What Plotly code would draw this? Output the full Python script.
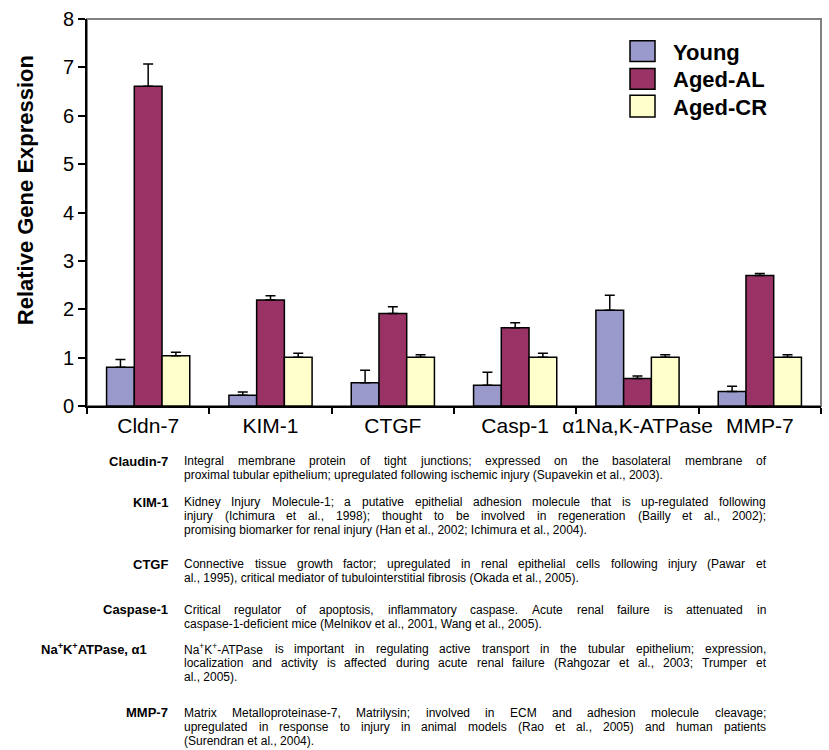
import re
import plotly.graph_objects as go

categories = ["Cldn-7", "KIM-1", "CTGF", "Casp-1", "α1Na,K-ATPase", "MMP-7"]
series_names = ["Young", "Aged-AL", "Aged-CR"]
young = [0.80, 0.22, 0.48, 0.43, 1.98, 0.30]
young_err = [0.16, 0.07, 0.26, 0.27, 0.31, 0.11]
aged_al = [6.61, 2.19, 1.91, 1.62, 0.57, 2.70]
aged_al_err = [0.46, 0.09, 0.14, 0.10, 0.05, 0.04]
aged_cr = [1.04, 1.01, 1.01, 1.01, 1.01, 1.01]
aged_cr_err = [0.07, 0.08, 0.05, 0.08, 0.05, 0.05]
colors = ["#9999CC", "#993366", "#FFFFCC"]
y_ticks = [0, 1, 2, 3, 4, 5, 6, 7, 8]

note_labels = ["Claudin-7", "KIM-1", "CTGF", "Caspase-1",
               "Na<sup>+</sup>K<sup>+</sup>ATPase, α1", "MMP-7"]
note_lines = [
    ["Integral membrane protein of tight junctions; expressed on the basolateral membrane of",
     "proximal tubular epithelium; upregulated following ischemic injury (Supavekin et al., 2003)."],
    ["Kidney Injury Molecule-1; a putative epithelial adhesion molecule that is up-regulated following",
     "injury (Ichimura et al., 1998); thought to be involved in regeneration (Bailly et al., 2002);",
     "promising biomarker for renal injury (Han et al., 2002; Ichimura et al., 2004)."],
    ["Connective tissue growth factor; upregulated in renal epithelial cells following injury (Pawar et",
     "al., 1995), critical mediator of tubulointerstitial fibrosis (Okada et al., 2005)."],
    ["Critical regulator of apoptosis, inflammatory caspase.  Acute renal failure is attenuated in",
     "caspase-1-deficient mice (Melnikov et al., 2001, Wang et al., 2005)."],
    ["Na<sup>+</sup>K<sup>+</sup>-ATPase is important in regulating active transport in the tubular epithelium; expression,",
     "localization and activity is affected during acute renal failure (Rahgozar et al., 2003; Trumper et",
     "al., 2005)."],
    ["Matrix Metalloproteinase-7, Matrilysin; involved in ECM and adhesion molecule cleavage;",
     "upregulated in response to injury in animal models (Rao et al., 2005) and human patients",
     "(Surendran et al., 2004)."],
]
note_first_y = [462, 503, 566, 612, 652, 716]
note_label_right = [170, 170, 170, 170, 149, 170]

W, H = 829, 750
L, R, T, B = 87, 821, 15, 406
PW, PH = R - L, B - T


def px(x):
    return (x - L) / PW


def py(y):
    return (B - y) / PH


FONT = "Arial, Liberation Sans, sans-serif"
NOTE_SIZE = 12
LINE_H = 14
TEXT_LEFT, TEXT_RIGHT = 182, 764

# Arial advance widths (1/1000 em) for text layout of the justified notes
_AW = {' ': 278, ',': 278, '-': 333, '.': 278, ';': 278, ':': 278, '(': 333, ')': 333,
       '+': 584, "'": 191}
for ch in "0123456789":
    _AW[ch] = 556
_AW.update(dict(zip("ABCDEFGHIJKLMNOPQRSTUVWXYZ",
                    [667, 667, 722, 722, 667, 611, 778, 722, 278, 500, 667, 556, 833,
                     722, 778, 667, 778, 722, 667, 611, 722, 667, 944, 667, 667, 611])))
_AW.update(dict(zip("abcdefghijklmnopqrstuvwxyz",
                    [556, 556, 500, 556, 556, 278, 556, 556, 222, 222, 500, 222, 833,
                     556, 556, 556, 556, 333, 500, 278, 556, 500, 722, 500, 500, 500])))


def text_width(s, size):
    w = 0.0
    parts = re.split(r"(<sup>.*?</sup>)", s)
    for p in parts:
        if p.startswith("<sup>"):
            inner = p[5:-6]
            w += sum(_AW.get(c, 556) for c in inner) * 0.7
        else:
            w += sum(_AW.get(c, 556) for c in p)
    return w * size / 1000.0


fig = go.Figure()
vals = [young, aged_al, aged_cr]
errs = [young_err, aged_al_err, aged_cr_err]
for name, v, e, c in zip(series_names, vals, errs, colors):
    fig.add_trace(go.Bar(
        x=categories, y=v, name=name,
        marker=dict(color=c, line=dict(color="black", width=1.5)),
        error_y=dict(type="data", array=e, arrayminus=[0] * len(e),
                     symmetric=False, color="black", thickness=1.5, width=5),
        hoverinfo="skip", showlegend=False,
    ))

shapes = [dict(type="rect", xref="paper", yref="paper", x0=0, x1=1, y0=0, y1=1,
               line=dict(color="#808080", width=2), layer="below")]
annotations = []

# legend
leg_box_y = [(37, 58), (65, 86), (92, 114)]
for name, c, (y0, y1) in zip(series_names, colors, leg_box_y):
    shapes.append(dict(type="rect", xref="paper", yref="paper",
                       x0=px(630), x1=px(655), y0=py(y1), y1=py(y0),
                       fillcolor=c, line=dict(color="black", width=1.5)))
    annotations.append(dict(text="<b>%s</b>" % name, xref="paper", yref="paper",
                            x=px(671), y=py((y0 + y1) / 2 + 1), xanchor="left",
                            yanchor="middle", showarrow=False,
                            font=dict(family=FONT, size=22, color="black")))

# y axis title
annotations.append(dict(text="<b>Relative Gene Expression</b>", xref="paper", yref="paper",
                        x=px(25), y=py(188), textangle=-90, showarrow=False,
                        xanchor="center", yanchor="middle",
                        font=dict(family=FONT, size=22, color="black")))

# notes below the chart (justified like the reference)
for lab, lines, y0, xr in zip(note_labels, note_lines, note_first_y, note_label_right):
    annotations.append(dict(text="<b>%s</b>" % lab, xref="paper", yref="paper",
                            x=px(xr), y=py(y0), xanchor="right", yanchor="middle",
                            showarrow=False,
                            font=dict(family=FONT, size=13, color="black")))
    for i, ln in enumerate(lines):
        yy = py(y0 + i * LINE_H)
        last = (i == len(lines) - 1)
        if last:
            annotations.append(dict(text=ln, xref="paper", yref="paper",
                                    x=px(TEXT_LEFT), y=yy, xanchor="left",
                                    yanchor="middle", showarrow=False,
                                    font=dict(family=FONT, size=NOTE_SIZE, color="black")))
            continue
        words = ln.split()
        widths = [text_width(wd, NOTE_SIZE) for wd in words]
        gap = (TEXT_RIGHT - TEXT_LEFT - sum(widths)) / max(len(words) - 1, 1)
        x = TEXT_LEFT
        for wd, wdw in zip(words, widths):
            annotations.append(dict(text=wd, xref="paper", yref="paper",
                                    x=px(x), y=yy, xanchor="left", yanchor="middle",
                                    showarrow=False,
                                    font=dict(family=FONT, size=NOTE_SIZE, color="black")))
            x += wdw + gap

fig.update_layout(
    width=W, height=H,
    margin=dict(l=L, r=W - R, t=T, b=H - B, pad=0),
    paper_bgcolor="white", plot_bgcolor="white",
    barmode="group", bargap=0.32, bargroupgap=0,
    font=dict(family=FONT, color="black"),
    xaxis=dict(type="category", tickson="boundaries", ticks="outside", ticklen=6,
               tickwidth=1.5, tickcolor="black", showline=True, linecolor="black",
               linewidth=2, showgrid=False, tickangle=0,
               tickfont=dict(size=21, color="black"), fixedrange=True),
    yaxis=dict(range=[0, 8], tickvals=y_ticks, ticks="outside", ticklen=7,
               tickwidth=1.5, tickcolor="black", showline=True, linecolor="black",
               linewidth=2, showgrid=False, zeroline=False,
               tickfont=dict(size=20, color="black"), fixedrange=True),
    shapes=shapes, annotations=annotations,
)

fig.write_html("out.html")
